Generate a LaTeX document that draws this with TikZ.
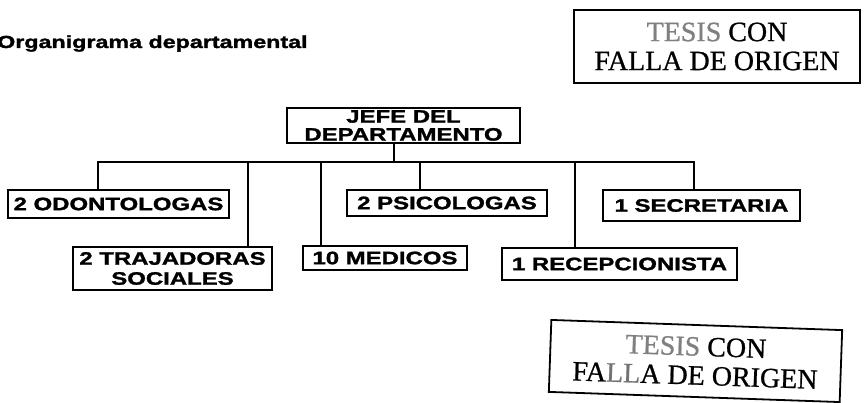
\documentclass[tikz,border=0pt]{standalone}
\usepackage{fontspec}
\newfontfamily\boxfont[FakeStretch=1.33, FakeBold=1.6]{Liberation Sans}
\newfontfamily\stampfont[FakeBold=0.8]{Liberation Serif}
\begin{document}
\begin{tikzpicture}[x=1pt,y=-1pt,
  orgbox/.style={draw, line width=1.6pt, inner sep=0pt, align=center,
    font=\boxfont\bfseries\fontsize{18}{18}\selectfont},
  conn/.style={line width=1.5pt},
  stamp/.style={draw, line width=1.8pt, inner sep=0pt, align=center,
    font=\stampfont\fontsize{28}{29}\selectfont}]
\useasboundingbox (0,0) rectangle (864,403);
% title
\node[anchor=base west, inner sep=0pt, font=\boxfont\bfseries\fontsize{17.5}{20}\selectfont] (title) at (-3,48) {Organigrama departamental};
% boxes
\node[orgbox, minimum width=233pt, minimum height=35pt] (jefe) at (403.5,125.5) {JEFE DEL\\DEPARTAMENTO};
\node[orgbox, minimum width=221pt, minimum height=28pt] (odon) at (118.5,204) {2 ODONTOLOGAS};
\node[orgbox, minimum width=199pt, minimum height=43pt, font=\boxfont\bfseries\fontsize{18}{20}\selectfont] (traj) at (172.5,268.5) {2 TRAJADORAS\\SOCIALES};
\node[orgbox, minimum width=164pt, minimum height=24pt] (med) at (385,258) {10 MEDICOS};
\node[orgbox, minimum width=200pt, minimum height=26pt] (psic) at (447,203) {2 PSICOLOGAS};
\node[orgbox, minimum width=235pt, minimum height=32pt] (recep) at (619.5,264) {1 RECEPCIONISTA};
\node[orgbox, minimum width=197pt, minimum height=31pt] (secr) at (701.5,205.5) {1 SECRETARIA};
% connectors
\coordinate (bus) at (394,162);
\coordinate (b1) at (98,162);
\coordinate (b2) at (248,162);
\coordinate (b3) at (321,162);
\coordinate (b4) at (420,162);
\coordinate (b5) at (575,162);
\coordinate (b6) at (694,162);
\draw[conn] (jefe.south -| bus) -- (bus);
\draw[conn, line join=miter] (b1 |- odon.north) -- (b1) -- (b6) -- (b6 |- secr.north);
\draw[conn] (b2) -- (b2 |- traj.north);
\draw[conn] (b3) -- (b3 |- med.north);
\draw[conn] (b4) -- (b4 |- psic.north);
\draw[conn] (b5) -- (b5 |- recep.north);
% stamps
\node[stamp, minimum width=286pt, minimum height=73pt] (stampA) at (717,46.5) {\textcolor{black!50}{TESIS} CON\\FALLA DE ORIGEN};
\node[stamp, rotate=-2, minimum width=291pt, minimum height=72pt] (stampB) at (695.5,361) {\textcolor{black!50}{TESIS} CON\\FA\textcolor{black!55}{LL}A DE ORIGEN};
\end{tikzpicture}
\end{document}
